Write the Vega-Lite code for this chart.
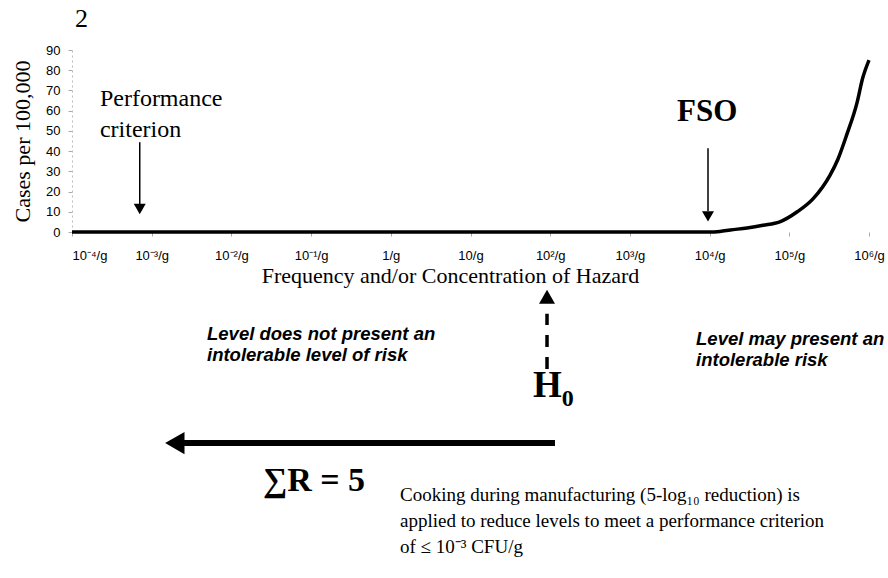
{
  "$schema": "https://vega.github.io/schema/vega-lite/v6.json",
  "width": 797,
  "height": 182,
  "autosize": {"type": "none"},
  "padding": {"left": 72, "top": 50, "right": 19, "bottom": 346},
  "background": "white",
  "config": {"view": {"stroke": null}},
  "encoding": {
    "x": {
      "field": "x",
      "type": "quantitative",
      "scale": {"domain": [-4, 6], "nice": false, "zero": false},
      "axis": {
        "values": [-4, -3, -2, -1, 0, 1, 2, 3, 4, 5, 6],
        "labelExpr": "datum.value == -4 ? '10⁻⁴/g' : datum.value == -3 ? '10⁻³/g' : datum.value == -2 ? '10⁻²/g' : datum.value == -1 ? '10⁻¹/g' : datum.value == 0 ? '1/g' : datum.value == 1 ? '10/g' : datum.value == 2 ? '10²/g' : datum.value == 3 ? '10³/g' : datum.value == 4 ? '10⁴/g' : datum.value == 5 ? '10⁵/g' : '10⁶/g'",
        "labelAlign": {"condition": {"test": "datum.value == -4", "value": "left"}, "value": "center"},
        "grid": false,
        "domain": false,
        "ticks": true,
        "tickColor": "#aaaaaa",
        "tickSize": 4,
        "labelPadding": 13,
        "labelFont": "Liberation Sans",
        "labelFontSize": 13,
        "labelColor": "black",
        "labelOverlap": false,
        "title": "Frequency and/or Concentration of Hazard",
        "titleFont": "Liberation Serif",
        "titleFontSize": 22,
        "titleFontWeight": "normal",
        "titleColor": "black",
        "titlePadding": 3,
        "titleX": 378
      }
    },
    "y": {
      "field": "y",
      "type": "quantitative",
      "scale": {"domain": [0, 90], "nice": false, "zero": false},
      "axis": {
        "values": [0, 10, 20, 30, 40, 50, 60, 70, 80, 90],
        "grid": false,
        "domainColor": "#bbbbbb",
        "domainDash": [2, 3],
        "tickColor": "#aaaaaa",
        "tickSize": 4,
        "labelPadding": 8,
        "labelFont": "Liberation Sans",
        "labelFontSize": 13,
        "labelColor": "black",
        "title": "Cases per 100,000",
        "titleFont": "Liberation Serif",
        "titleFontSize": 22,
        "titleFontWeight": "normal",
        "titleColor": "black",
        "titlePadding": 11
      }
    }
  },
  "layer": [
    {
      "data": {"values": [
        {"x": -4, "y": 0}, {"x": -3, "y": 0}, {"x": -2, "y": 0}, {"x": -1, "y": 0},
        {"x": 0, "y": 0}, {"x": 1, "y": 0}, {"x": 2, "y": 0}, {"x": 3, "y": 0},
        {"x": 4, "y": 0}, {"x": 4.13, "y": 0.3}, {"x": 4.26, "y": 1}, {"x": 4.47, "y": 2},
        {"x": 4.67, "y": 3.3}, {"x": 4.88, "y": 5}, {"x": 5.1, "y": 10}, {"x": 5.3, "y": 16.5},
        {"x": 5.51, "y": 28}, {"x": 5.61, "y": 36}, {"x": 5.72, "y": 48}, {"x": 5.85, "y": 64},
        {"x": 5.92, "y": 76}, {"x": 6.0, "y": 85}
      ]},
      "mark": {"type": "line", "color": "black", "strokeWidth": 3.5, "interpolate": "monotone"}
    },
    {
      "data": {"values": [
        {"x": -3.15, "y": 44.4, "y2": 13.6},
        {"x": 3.98, "y": 41.4, "y2": 10.2}
      ]},
      "mark": {"type": "rule", "color": "black", "strokeWidth": 1.5},
      "encoding": {"y2": {"field": "y2"}}
    },
    {
      "data": {"values": [
        {"x": -3.15, "y": 11.4},
        {"x": 3.98, "y": 7.7}
      ]},
      "mark": {"type": "point", "shape": "triangle-down", "filled": true, "color": "black", "opacity": 1, "size": 144}
    },
    {
      "data": {"values": [{"x": 1.96, "y": -67.7, "y2": -40.4}]},
      "mark": {"type": "rule", "color": "black", "strokeWidth": 3.5, "strokeDash": [12, 10]},
      "encoding": {"y2": {"field": "y2"}}
    },
    {
      "data": {"values": [{"x": 1.96, "y": -32.0}]},
      "mark": {"type": "point", "shape": "triangle-up", "filled": true, "color": "black", "opacity": 1, "size": 256}
    },
    {
      "data": {"values": [{"x": -2.62, "x2": 2.06, "y": -104.4}]},
      "mark": {"type": "rule", "color": "black", "strokeWidth": 6},
      "encoding": {"x2": {"field": "x2"}}
    },
    {
      "data": {"values": [{"x": -2.71, "y": -104.4}]},
      "mark": {"type": "point", "shape": "triangle-left", "filled": true, "color": "black", "opacity": 1, "size": 500}
    },
    {
      "data": {"values": [{"x": -3.962, "y": 101.4, "text": "2"}]},
      "mark": {"type": "text", "font": "Liberation Serif", "fontSize": 26, "align": "left", "baseline": "alphabetic", "color": "black"},
      "encoding": {"text": {"field": "text"}}
    },
    {
      "data": {"values": [
        {"x": -3.65, "y": 62.2, "text": "Performance"},
        {"x": -3.65, "y": 46.9, "text": "criterion"}
      ]},
      "mark": {"type": "text", "font": "Liberation Serif", "fontSize": 24, "align": "left", "baseline": "alphabetic", "color": "black"},
      "encoding": {"text": {"field": "text"}}
    },
    {
      "data": {"values": [{"x": 3.97, "y": 54.8, "text": "FSO"}]},
      "mark": {"type": "text", "font": "Liberation Serif", "fontSize": 31, "fontWeight": "bold", "align": "center", "baseline": "alphabetic", "color": "black"},
      "encoding": {"text": {"field": "text"}}
    },
    {
      "data": {"values": [{"x": 1.966, "y": -81.6, "text": "H"}]},
      "mark": {"type": "text", "font": "Liberation Serif", "fontSize": 37, "fontWeight": "bold", "align": "center", "baseline": "alphabetic", "color": "black"},
      "encoding": {"text": {"field": "text"}}
    },
    {
      "data": {"values": [{"x": 2.22, "y": -86.0, "text": "0"}]},
      "mark": {"type": "text", "font": "Liberation Serif", "fontSize": 24, "fontWeight": "bold", "align": "center", "baseline": "alphabetic", "color": "black"},
      "encoding": {"text": {"field": "text"}}
    },
    {
      "data": {"values": [
        {"x": -2.306, "y": -53.6, "text": "Level does not present an"},
        {"x": -2.306, "y": -63.8, "text": "intolerable level of risk"},
        {"x": 3.83, "y": -55.8, "text": "Level may present an"},
        {"x": 3.83, "y": -66.2, "text": "intolerable risk"}
      ]},
      "mark": {"type": "text", "font": "Liberation Sans", "fontSize": 18.5, "fontWeight": "bold", "fontStyle": "italic", "align": "left", "baseline": "alphabetic", "color": "black"},
      "encoding": {"text": {"field": "text"}}
    },
    {
      "data": {"values": [{"x": -0.964, "y": -128.2, "text": "∑R = 5"}]},
      "mark": {"type": "text", "font": "Liberation Serif", "fontSize": 34, "fontWeight": "bold", "align": "center", "baseline": "alphabetic", "color": "black"},
      "encoding": {"text": {"field": "text"}}
    },
    {
      "data": {"values": [
        {"x": 0.115, "y": -133.1, "text": "Cooking during manufacturing (5-log₁₀ reduction) is"},
        {"x": 0.115, "y": -145.8, "text": "applied to reduce levels to meet a performance criterion"},
        {"x": 0.115, "y": -158.5, "text": "of ≤ 10⁻³ CFU/g"}
      ]},
      "mark": {"type": "text", "font": "Liberation Serif", "fontSize": 19, "align": "left", "baseline": "alphabetic", "color": "black"},
      "encoding": {"text": {"field": "text"}}
    }
  ]
}
